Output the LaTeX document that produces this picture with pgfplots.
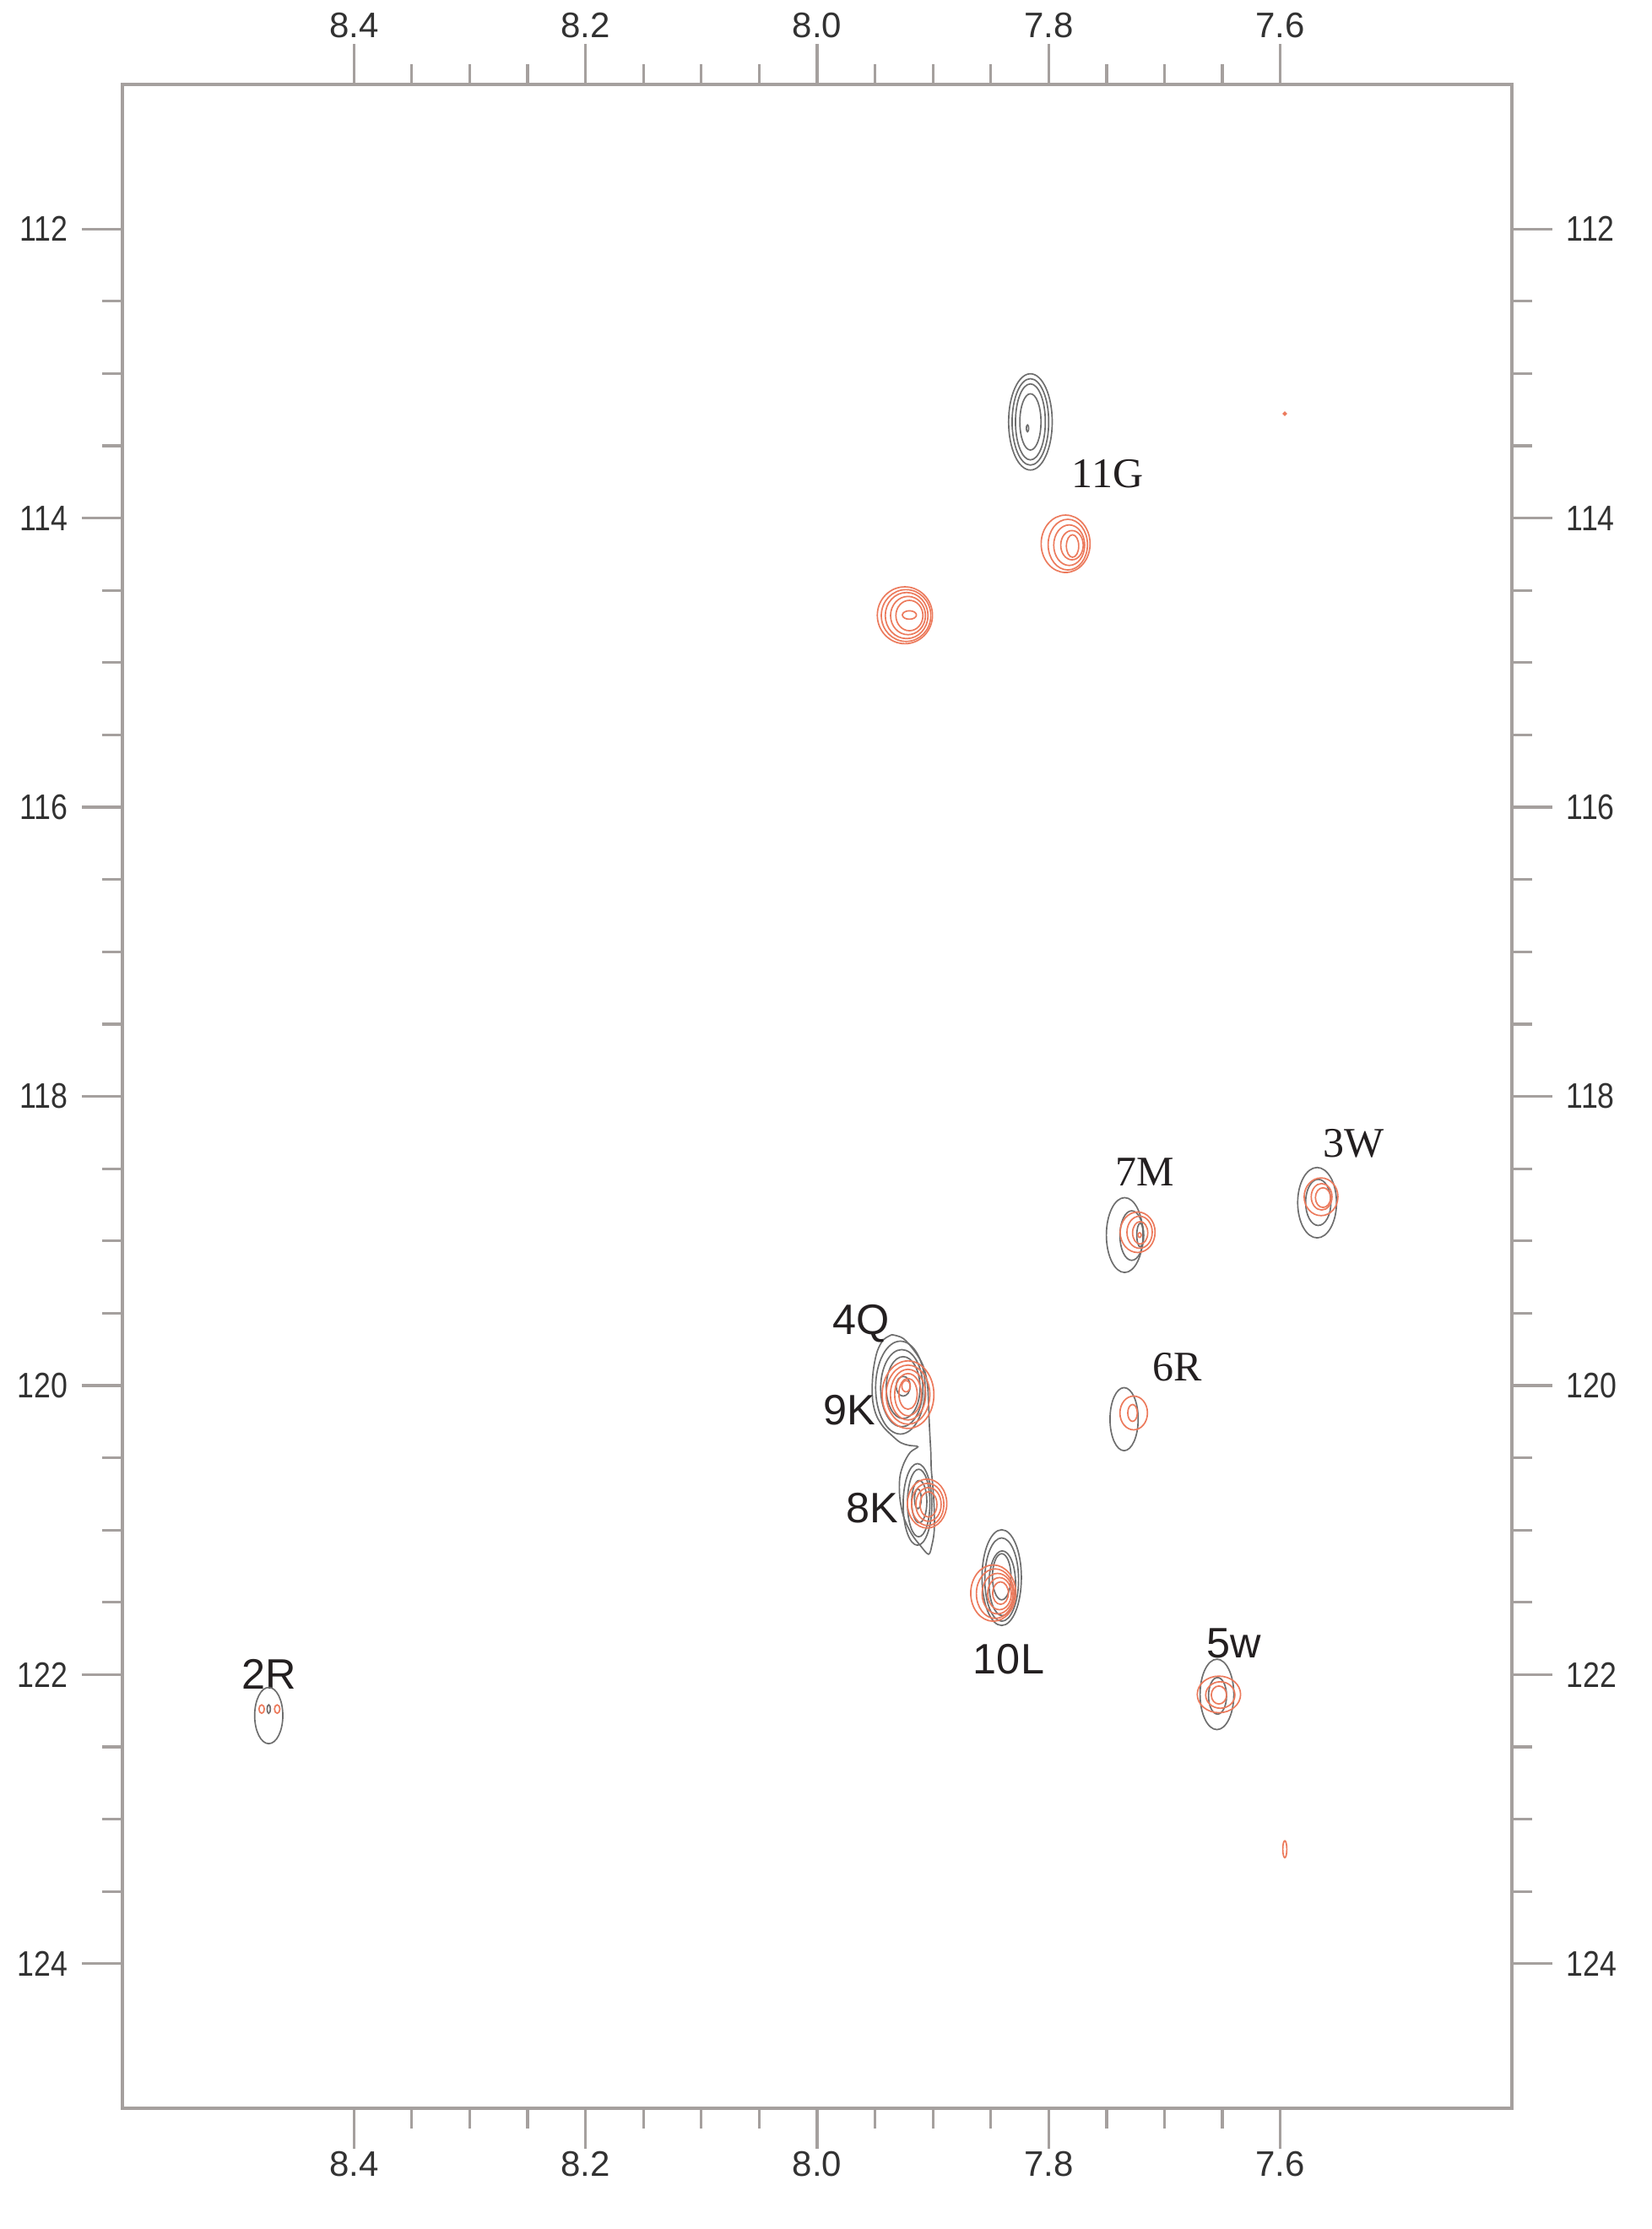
\documentclass[border=0pt]{standalone}
\usepackage{pgfplots}
\pgfplotsset{compat=1.18}
\usepackage{pgfplotstable}
\usepackage{fontspec}
\setmainfont{Liberation Sans}
\newfontfamily\serifl{Liberation Serif}
\definecolor{axgray}{RGB}{165,160,158}
\definecolor{blk}{RGB}{110,110,110}
\definecolor{org}{RGB}{236,122,92}
\definecolor{lab}{RGB}{35,31,32}
\definecolor{tickc}{RGB}{50,50,50}

\pgfdeclareplotmark{contell}{%
  \pgfpathellipse{\pgfpointorigin}{\pgfpoint{\myrx pt}{0pt}}{\pgfpoint{0pt}{\myry pt}}%
  \pgfusepathqstroke}

% black (reference) contours: centre x, centre y, half-width (pt), half-height (pt)
\pgfplotstableread{
x y rx ry
7.8158 113.3345 6.46 14.25
7.8158 113.3345 5.42 12.79
7.8158 113.3345 4.42 11.25
7.8158 113.3345 3.13 8.33
7.8183 113.379 0.35 1.0
7.7344 118.9595 5.42 11.08
7.7283 118.963 3.5 7.33
7.7210 118.9595 1.0 3.5
7.5682 118.7355 5.75 10.42
7.5672 118.7336 3.75 6.83
7.9281 120.0148 7.33 13.75
7.9269 120.0187 6.25 11.42
7.9257 120.0148 5.0 9.17
7.9257 120.0051 2.08 2.92
7.9133 120.8228 4.25 12.08
7.9123 120.8131 3.33 10.0
7.9118 120.8033 2.25 6.25
7.9130 120.7838 1.0 2.92
7.7349 120.2329 4.17 9.33
7.8406 121.3291 5.83 14.17
7.8406 121.3427 5.0 12.33
7.8401 121.368 3.92 9.58
7.8406 121.3232 2.75 6.83
7.6547 122.1371 5.0 10.42
7.6542 122.1468 2.67 5.42
8.4736 122.2831 4.17 8.33
8.4736 122.2384 0.5 1.25
}\blackpeaks

% orange contours
\pgfplotstableread{
x y rx ry
7.7854 114.1776 7.25 8.5
7.7835 114.1834 5.83 7.5
7.7823 114.1873 4.58 6.0
7.7799 114.1873 3.33 4.33
7.7794 114.193 1.83 3.33
7.9242 114.6721 8.17 8.42
7.9232 114.674 7.33 7.67
7.9227 114.674 6.33 6.83
7.9215 114.674 5.17 5.67
7.9203 114.674 4.0 4.5
7.9203 114.6702 2.08 1.25
7.7232 118.94 5.17 6.0
7.7215 118.94 3.75 4.75
7.7210 118.944 2.25 3.33
7.7215 118.9595 0.5 0.7
7.5648 118.6947 5.0 5.58
7.5643 118.6947 3.08 3.92
7.5631 118.7005 2.25 2.92
7.9215 120.0635 7.67 10.0
7.9215 120.0635 6.46 8.75
7.9215 120.0635 5.21 7.5
7.9215 120.0635 3.96 6.25
7.9215 120.0577 2.71 4.58
7.9232 120.0051 1.25 1.67
7.9050 120.817 5.83 7.25
7.9045 120.8228 4.79 6.25
7.9038 120.8228 3.75 5.0
7.9038 120.8228 2.5 3.75
7.7266 120.19 4.08 5.0
7.7276 120.19 1.42 2.5
7.8479 121.4362 6.67 8.33
7.8462 121.44 5.58 7.33
7.8442 121.44 4.58 6.0
7.8425 121.44 3.5 4.75
7.8416 121.4362 2.33 3.33
7.6530 122.1371 6.42 5.42
7.6518 122.141 4.33 3.92
7.6530 122.141 2.25 2.67
8.4797 122.2384 0.8 1.25
8.4663 122.2384 0.8 1.25
7.5961 113.278 0.4 0.4
7.5961 123.208 0.6 2.5
}\orangepeaks

\newcommand{\yl}[1]{\scalebox{0.85}[1]{#1}}
\pgfplotsset{nmrax/.style={
  scale only axis, width=411.5pt, height=599.25pt,
  xmin=7.4, xmax=8.6, ymin=111, ymax=125, x dir=reverse, y dir=reverse,
  xtick={7.6,7.8,8.0,8.2,8.4}, xticklabels={7.6,7.8,8.0,8.2,8.4},
  ytick={112,114,116,118,120,122,124},
  yticklabels={\yl{112},\yl{114},\yl{116},\yl{118},\yl{120},\yl{122},\yl{124}},
  minor x tick num=3, minor y tick num=3,
  tick align=outside, major tick length=12pt, minor tick length=6pt,
  axis line style={axgray, line width=0.8pt},
  every tick/.style={axgray, line width=0.8pt},
  ticklabel style={font=\fontsize{10.5}{12}\selectfont, text=tickc, inner sep=0pt},
  yticklabel shift=4pt,
}}

\begin{document}
\begin{tikzpicture}
\begin{axis}[nmrax, name=ax, xtick pos=left, ytick pos=left,
  xticklabel pos=left, yticklabel pos=left, xticklabel shift=0.6pt]
\addplot[only marks, mark=contell, color=blk, mark options={line width=0.42pt},
  visualization depends on={\thisrow{rx}\as\myrx},
  visualization depends on={\thisrow{ry}\as\myry}]
  table[x=x,y=y] {\blackpeaks};
\addplot[only marks, mark=contell, color=org, mark options={line width=0.42pt},
  visualization depends on={\thisrow{rx}\as\myrx},
  visualization depends on={\thisrow{ry}\as\myry}]
  table[x=x,y=y] {\orangepeaks};
% merged outer contour of 4Q/9K and 8K
\addplot[blk, line width=0.42pt, smooth, tension=0.55, mark=none] coordinates {
(7.9354,119.6488) (7.9257,119.6741) (7.9159,119.7617) (7.9087,119.8590)
(7.9050,119.9759) (7.9038,120.1122) (7.9033,120.2290) (7.9026,120.3458)
(7.9018,120.4626) (7.9014,120.5794) (7.9001,120.6963) (7.8989,120.8520)
(7.8989,121.0078) (7.9009,121.1051) (7.9038,121.1674) (7.9111,121.1051)
(7.9184,121.0273) (7.9252,120.9104) (7.9286,120.7742) (7.9286,120.6379)
(7.9252,120.5405) (7.9196,120.4626) (7.9130,120.4237) (7.9208,120.4140)
(7.9281,120.3945) (7.9354,120.3458) (7.9427,120.2874) (7.9487,120.2095)
(7.9519,120.1122) (7.9524,119.9953) (7.9512,119.8785) (7.9480,119.7617)
(7.9427,119.6838) (7.9354,119.6488)};
% peak labels
\node[anchor=base, text=lab, font=\serifl\fontsize{12.5}{14}\selectfont] at (axis cs:7.7492,113.786) {11G};
\node[anchor=base, text=lab, font=\serifl\fontsize{12.5}{14}\selectfont] at (axis cs:7.7172,118.617) {7M};
\node[anchor=base, text=lab, font=\serifl\fontsize{12.5}{14}\selectfont] at (axis cs:7.5364,118.418) {3W};
\node[anchor=base, text=lab, font=\serifl\fontsize{12.5}{14}\selectfont] at (axis cs:7.6887,119.966) {6R};
\node[anchor=base, text=lab, font=\fontsize{12.6}{14}\selectfont] at (axis cs:7.9621,119.645) {4Q};
\node[anchor=base, text=lab, font=\fontsize{12.6}{14}\selectfont] at (axis cs:7.9723,120.270) {9K};
\node[anchor=base, text=lab, font=\fontsize{12.6}{14}\selectfont] at (axis cs:7.9526,120.947) {8K};
\node[anchor=base, text=lab, font=\fontsize{12.6}{14}\selectfont] at (axis cs:7.8345,121.993) {10L};
\node[anchor=base, text=lab, font=\fontsize{12.6}{14}\selectfont] at (axis cs:7.6399,121.882) {5w};
\node[anchor=base, text=lab, font=\fontsize{12.6}{14}\selectfont] at (axis cs:8.4731,122.098) {2R};
\end{axis}
\begin{axis}[nmrax, xtick pos=right, ytick pos=right,
  xticklabel pos=right, yticklabel pos=right, xticklabel shift=1.5pt]
\end{axis}
\path ([xshift=-36.25pt,yshift=-35.75pt]ax.south west) rectangle ([xshift=41.25pt,yshift=25pt]ax.north east);
\end{tikzpicture}
\end{document}
